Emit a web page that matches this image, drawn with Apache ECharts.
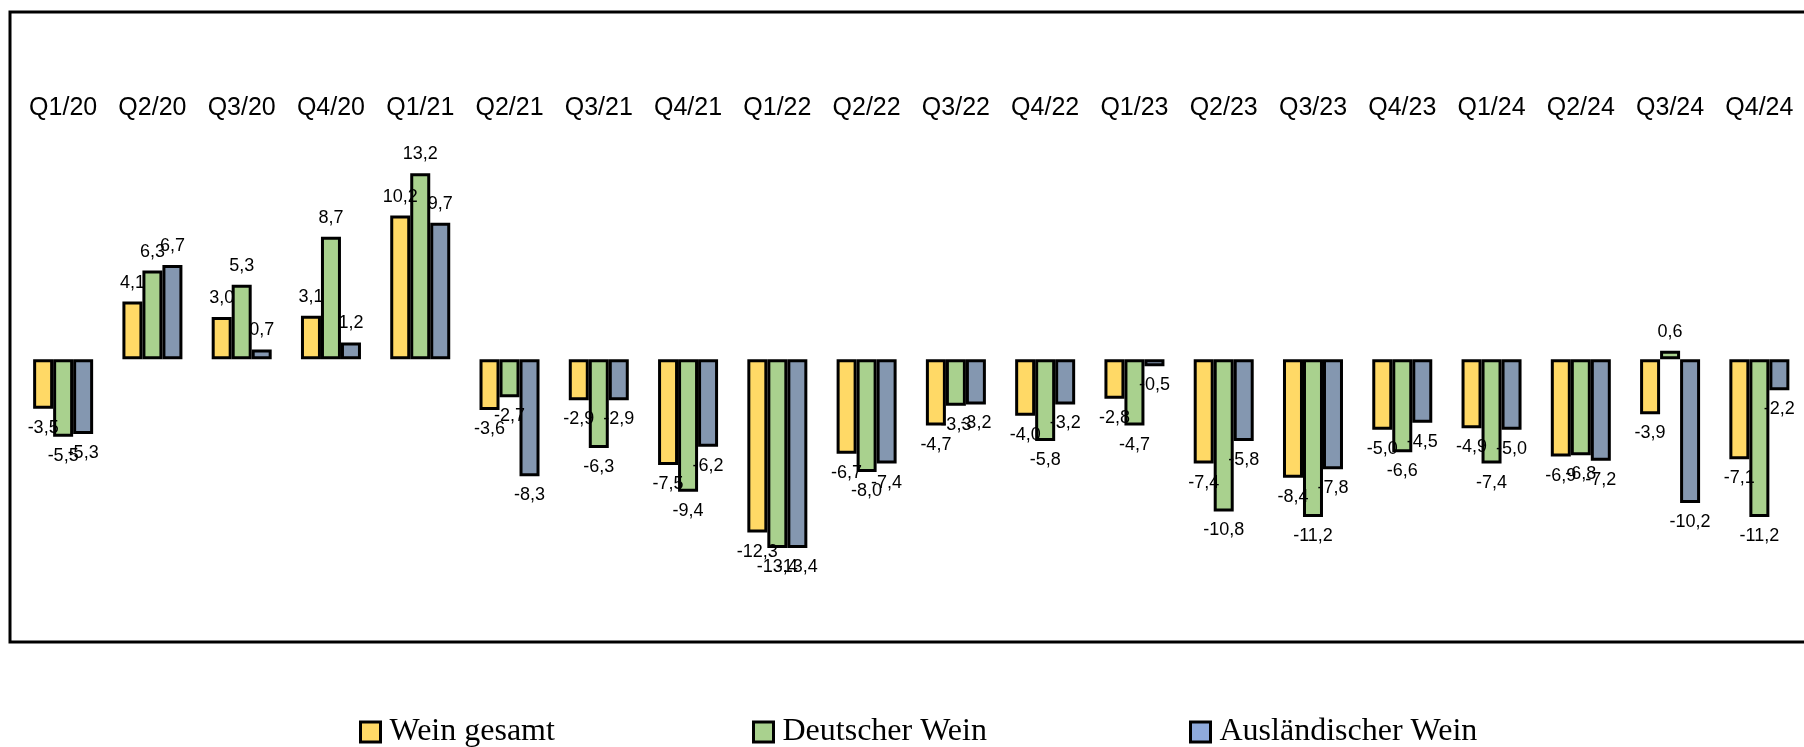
<!DOCTYPE html>
<html>
<head>
<meta charset="utf-8">
<script src="https://cdn.jsdelivr.net/npm/echarts@6/dist/echarts.min.js"></script>
<style>
  html, body { margin: 0; padding: 0; background: #fff; }
  #main { width: 1804px; height: 747px; }
</style>
</head>
<body>
<div id="main"></div>
<script>
// Quartale
var quartale = ["Q1/20","Q2/20","Q3/20","Q4/20","Q1/21","Q2/21","Q3/21","Q4/21","Q1/22","Q2/22",
                "Q3/22","Q4/22","Q1/23","Q2/23","Q3/23","Q4/23","Q1/24","Q2/24","Q3/24","Q4/24"];
// Veränderung in %
var weinGesamt = [-3.5, 4.1, 3.0, 3.1, 10.2, -3.6, -2.9, -7.5, -12.3, -6.7,
                  -4.7, -4.0, -2.8, -7.4, -8.4, -5.0, -4.9, -6.9, -3.9, -7.1];
var deutscherWein = [-5.5, 6.3, 5.3, 8.7, 13.2, -2.7, -6.3, -9.4, -13.4, -8.0,
                     -3.3, -5.8, -4.7, -10.8, -11.2, -6.6, -7.4, -6.8, 0.6, -11.2];
var auslaendischerWein = [-5.3, 6.7, 0.7, 1.2, 9.7, -8.3, -2.9, -6.2, -13.4, -7.4,
                          -3.2, -3.2, -0.5, -5.8, -7.8, -4.5, -5.0, -7.2, -10.2, -2.2];

var myChart = echarts.init(document.getElementById('main'));

function fmt(v) {
    return v.toFixed(1).replace('.', ',');
}

// Beschriftung oben bei positiven, unten bei negativen Werten
function mitLabels(werte) {
    return werte.map(function (v) {
        return { value: v, label: { position: v >= 0 ? 'top' : 'bottom' } };
    });
}

function reihe(name, werte, farbe) {
    return {
        name: name,
        type: 'bar',
        barWidth: 20,
        barGap: '0%',
        data: mitLabels(werte),
        itemStyle: { color: farbe, borderColor: '#000', borderWidth: 3 },
        label: {
            show: true,
            distance: 10,
            color: '#000',
            fontFamily: 'Liberation Sans, Arial',
            fontSize: 18,
            formatter: function (p) { return fmt(p.value); }
        }
    };
}

function legende(name, farbe, links) {
    return {
        left: links,
        top: 716,
        padding: 0,
        icon: 'rect',
        itemWidth: 20,
        itemHeight: 20,
        selectedMode: false,
        data: [{ name: name, itemStyle: { color: farbe, borderColor: '#000', borderWidth: 3 } }],
        textStyle: { fontFamily: 'Liberation Serif, Times New Roman', fontSize: 32, color: '#000', padding: [0, 0, 0, 4] }
    };
}

var option = {
    animation: false,
    backgroundColor: '#fff',
    grid: { left: 18.5, width: 1792, top: 133.9, height: 507.2 },
    xAxis: {
        type: 'category',
        position: 'top',
        data: quartale,
        axisLine: { show: false },
        axisTick: { show: false },
        axisLabel: {
            interval: 0,
            margin: 13,
            color: '#000',
            fontFamily: 'Liberation Sans, Arial',
            fontSize: 25
        }
    },
    yAxis: {
        type: 'value',
        min: -20,
        max: 16,
        show: false,
        splitLine: { show: false }
    },
    legend: [
        legende('Wein gesamt', '#FFD966', 359),
        legende('Deutscher Wein', '#A9D18E', 752),
        legende('Ausländischer Wein', '#8FAADC', 1189)
    ],
    graphic: [{
        type: 'rect',
        silent: true,
        shape: { x: 10, y: 12, width: 1850, height: 630 },
        style: { fill: null, stroke: '#000', lineWidth: 3 }
    }],
    series: [
        reihe('Wein gesamt', weinGesamt, '#FFD966'),
        reihe('Deutscher Wein', deutscherWein, '#A9D18E'),
        reihe('Ausländischer Wein', auslaendischerWein, '#8497B0')
    ]
};

myChart.setOption(option);
</script>
</body>
</html>
